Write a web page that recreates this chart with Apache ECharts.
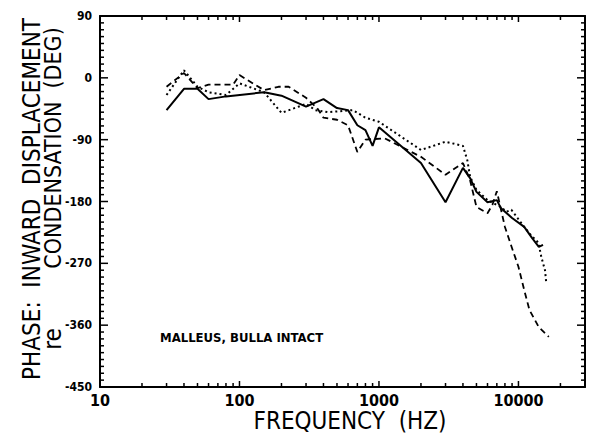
<!DOCTYPE html>
<html>
<head>
<meta charset="utf-8">
<script src="https://cdn.jsdelivr.net/npm/echarts@6/dist/echarts.min.js"></script>
<style>
  html, body { margin: 0; padding: 0; background: #fff; }
  #chart { width: 600px; height: 447px; }
</style>
</head>
<body>
<div id="chart"></div>
<script>
// frequency (Hz) / phase (deg)
const solidFreq = [30, 40, 50, 60, 80, 150, 160, 200, 300, 400, 500, 600, 700, 800, 900, 1000, 2000, 3000, 4000, 4500, 5000, 6000, 7000, 7500, 9000, 11000, 12500, 14000, 15000]
const solidPhase = [-47, -16, -16, -31, -27, -21, -22, -26, -42, -31, -44, -47, -69, -76, -99, -72, -124, -181, -131, -146, -166, -181, -178, -190, -204, -217, -233, -246, -243]

const dashedFreq = [30, 40, 50, 60, 90, 100, 150, 190, 225, 300, 360, 400, 500, 600, 700, 800, 1100, 2000, 3000, 4000, 4500, 5000, 6000, 6500, 7000, 7500, 8000, 9000, 10000, 11000, 12000, 14000, 16500]
const dashedPhase = [-13, 7, -15, -10, -10, 4, -18, -13, -13, -29, -44, -58, -61, -69, -108, -90, -88, -115, -141, -124, -149, -188, -197, -185, -165, -192, -217, -248, -275, -309, -338, -363, -377]

const dottedFreq = [30, 40, 50, 60, 80, 100, 150, 200, 300, 350, 430, 650, 800, 1000, 2000, 3000, 4000, 4300, 4500, 5000, 6000, 7500, 8200, 8900, 11000, 12300, 13900, 14600, 15500, 15800]
const dottedPhase = [-25, 11, -13, -21, -25, -8, -21, -51, -38, -47, -50, -47, -58, -64, -105, -93, -99, -120, -144, -163, -178, -188, -195, -192, -217, -229, -240, -261, -280, -297]

// axis ranges and tick values
const xRange = [10, 30000]
const yRange = [-450, 90]
const xMajorTicks = [10, 100, 1000, 10000]
const xMinorTicks = [20, 30, 40, 50, 60, 70, 80, 90, 200, 300, 400, 500, 600, 700, 800, 900, 2000, 3000, 4000, 5000, 6000, 7000, 8000, 9000, 20000]
const yMajorTicks = [-450, -360, -270, -180, -90, 0, 90]
const yMinorTicks = [-440, -430, -420, -410, -400, -390, -380, -370, -350, -340, -330, -320, -310, -300, -290, -280, -260, -250, -240, -230, -220, -210, -200, -190, -170, -160, -150, -140, -130, -120, -110, -100, -80, -70, -60, -50, -40, -30, -20, -10, 10, 20, 30, 40, 50, 60, 70, 80]

const FONT = '"Liberation Sans Narrow", "DejaVu Sans Condensed", "Liberation Sans", Arial, sans-serif'

function pairs (xs, ys) {
  return xs.map((x, i) => [x, ys[i]])
}

const chart = echarts.init(document.getElementById('chart'), null, { renderer: 'svg' })

function frameLine () {
  return { show: true, onZero: false, lineStyle: { color: '#000', width: 2 } }
}

function xAxisAt (pos, labels) {
  return {
    type: 'log',
    logBase: 10,
    position: pos,
    min: xRange[0],
    max: xRange[1],
    axisLine: frameLine(),
    axisTick: { show: false },
    axisLabel: labels ? {
      show: true,
      customValues: xMajorTicks,
      formatter: v => String(v),
      color: '#000',
      fontFamily: FONT,
      fontWeight: 'bold',
      fontSize: 16,
      margin: 5
    } : { show: false },
    splitLine: { show: false }
  }
}

function yAxisAt (pos, labels) {
  return {
    type: 'value',
    position: pos,
    min: yRange[0],
    max: yRange[1],
    interval: 90,
    axisLine: frameLine(),
    axisTick: { show: false },
    axisLabel: labels ? {
      show: true,
      color: '#000',
      fontFamily: FONT,
      fontWeight: 'bold',
      fontSize: 12,
      margin: 8
    } : { show: false },
    splitLine: { show: false }
  }
}

// inward ticks on both sides of the frame, placed through the axes' own scales
function tickSeries (ticks, len, vertical) {
  return {
    type: 'custom',
    silent: true,
    clip: false,
    z: 5,
    xAxisIndex: 0,
    yAxisIndex: 0,
    data: ticks.map(v => vertical ? [v, yRange[0]] : [xRange[0], v]),
    renderItem: function (params, api) {
      const v = api.value(vertical ? 0 : 1)
      const a = vertical ? api.coord([v, yRange[0]]) : api.coord([xRange[0], v])
      const b = vertical ? api.coord([v, yRange[1]]) : api.coord([xRange[1], v])
      let kids
      if (vertical) {
        kids = [
          { type: 'line', shape: { x1: a[0], y1: a[1], x2: a[0], y2: a[1] - len }, style: { stroke: '#000', lineWidth: 1.5 } },
          { type: 'line', shape: { x1: b[0], y1: b[1], x2: b[0], y2: b[1] + len }, style: { stroke: '#000', lineWidth: 1.5 } }
        ]
      } else {
        kids = [
          { type: 'line', shape: { x1: a[0], y1: a[1], x2: a[0] + len, y2: a[1] }, style: { stroke: '#000', lineWidth: 1.5 } },
          { type: 'line', shape: { x1: b[0], y1: b[1], x2: b[0] - len, y2: b[1] }, style: { stroke: '#000', lineWidth: 1.5 } }
        ]
      }
      return { type: 'group', children: kids }
    }
  }
}

// axis titles + note as plain text elements
function label (text, x, y, size, weight, rot, align) {
  return {
    type: 'text',
    x: x,
    y: y,
    rotation: rot,
    style: {
      text: text,
      fill: '#000',
      font: weight + ' ' + size + 'px ' + FONT,
      textAlign: align,
      textVerticalAlign: 'middle'
    }
  }
}

const option = {
  animation: false,
  grid: { left: 100, right: 15, top: 16, bottom: 60 },
  xAxis: [xAxisAt('bottom', true), xAxisAt('top', false)],
  yAxis: [yAxisAt('left', true), yAxisAt('right', false)],
  graphic: [
    label('FREQUENCY  (HZ)', 350, 421, 24, 'normal', 0, 'center'),
    label('PHASE:  INWARD  DISPLACEMENT', 32, 199, 24, 'normal', Math.PI / 2, 'center'),
    label('CONDENSATION  (DEG)', 53, 148, 23, 'normal', Math.PI / 2, 'center'),
    label('re', 53, 339, 24, 'normal', Math.PI / 2, 'center'),
    label('MALLEUS, BULLA INTACT', 160, 337, 13, 'bold', 0, 'left')
  ],
  series: [
    tickSeries(xMajorTicks, 6, true),
    tickSeries(xMinorTicks, 4, true),
    tickSeries(yMajorTicks, 8, false),
    tickSeries(yMinorTicks, 4, false),
    {
      name: 'solid',
      type: 'line',
      xAxisIndex: 0,
      yAxisIndex: 0,
      data: pairs(solidFreq, solidPhase),
      symbol: 'none',
      lineStyle: { color: '#000', width: 2 }
    },
    {
      name: 'dashed',
      type: 'line',
      xAxisIndex: 0,
      yAxisIndex: 0,
      data: pairs(dashedFreq, dashedPhase),
      symbol: 'none',
      lineStyle: { color: '#000', width: 1.8, type: [6, 4] }
    },
    {
      name: 'dotted',
      type: 'line',
      xAxisIndex: 0,
      yAxisIndex: 0,
      data: pairs(dottedFreq, dottedPhase),
      symbol: 'none',
      lineStyle: { color: '#000', width: 2, type: [2, 3] }
    }
  ]
}

chart.setOption(option)
</script>
</body>
</html>
